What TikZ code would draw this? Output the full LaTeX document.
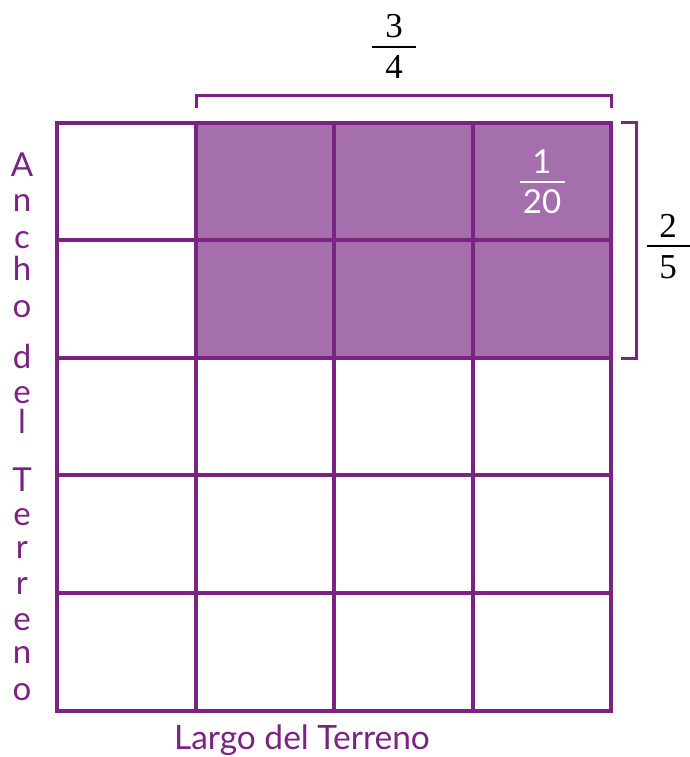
\documentclass[tikz,border=0pt]{standalone}
\usepackage{fontspec}
\setmainfont{Lato}
\newfontfamily\serifnum{Liberation Serif}
\definecolor{gridpurple}{HTML}{7A2382}
\definecolor{fillpurple}{HTML}{A56FAE}
\begin{document}
\begin{tikzpicture}[x=1pt,y=-1pt,
  gridline/.style={draw=gridpurple,line width=4pt,line cap=rect},
  bracketline/.style={draw=gridpurple,line width=3pt},
  fracnum/.style={font=\serifnum\fontsize{35}{35}\selectfont,inner sep=0pt},
  fracbar/.style={draw=black,line width=1.8pt},
  vletter/.style={font=\fontsize{33}{33}\selectfont,text=gridpurple,anchor=base,inner sep=0pt},
  lbl/.style={font=\fontsize{33.5}{33.5}\selectfont,text=gridpurple,anchor=base,inner sep=0pt}]
\useasboundingbox (0,0) rectangle (690,757);
% shaded area
\fill[fillpurple] (196,123) rectangle (611,358);
% grid
\foreach \x in {57,196,334,473,611} \draw[gridline] (\x,123) -- (\x,711);
\foreach \y in {123,240,358,475,593,711} \draw[gridline] (57,\y) -- (611,\y);
% top bracket
\draw[bracketline] (196,108) -- (196,96) -- (611,96) -- (611,108);
% right bracket
\draw[bracketline] (621,123) -- (636,123) -- (636,358) -- (621,358);
% fraction 3/4
\node[fracnum,anchor=base] (n34) at (394,38) {3};
\node[fracnum,anchor=base] (d34) at (394,79) {4};
\coordinate (b34l) at (372,47); \coordinate (b34r) at (416,47);
\draw[fracbar] (b34l) -- (b34r);
% fraction 2/5
\node[fracnum,anchor=base] (n25) at (668,237) {2};
\node[fracnum,anchor=base] (d25) at (668,278) {5};
\coordinate (b25l) at (647,246); \coordinate (b25r) at (690,246);
\draw[fracbar] (b25l) -- (b25r);
% fraction 1/20
\node[font=\fontsize{33}{33}\selectfont,text=white,anchor=base,inner sep=0pt] (n120) at (542,173) {1};
\node[font=\fontsize{33}{33}\selectfont,text=white,anchor=base,inner sep=0pt] (d120) at (542,213) {20};
\coordinate (b120l) at (520,182); \coordinate (b120r) at (565,182);
\draw[draw=white,line width=2pt] (b120l) -- (b120r);
% vertical label
\foreach \ch/\yy [count=\i] in {A/176,n/211,c/248,h/280,o/317,d/368,e/403,l/433,T/491,e/525,r/558,r/594,e/630,n/663,o/700}
  \node[vletter] (v\i) at (22,\yy) {\ch};
% bottom label
\node[lbl] (largo) at (302,749) {Largo del Terreno};
\end{tikzpicture}
\end{document}
